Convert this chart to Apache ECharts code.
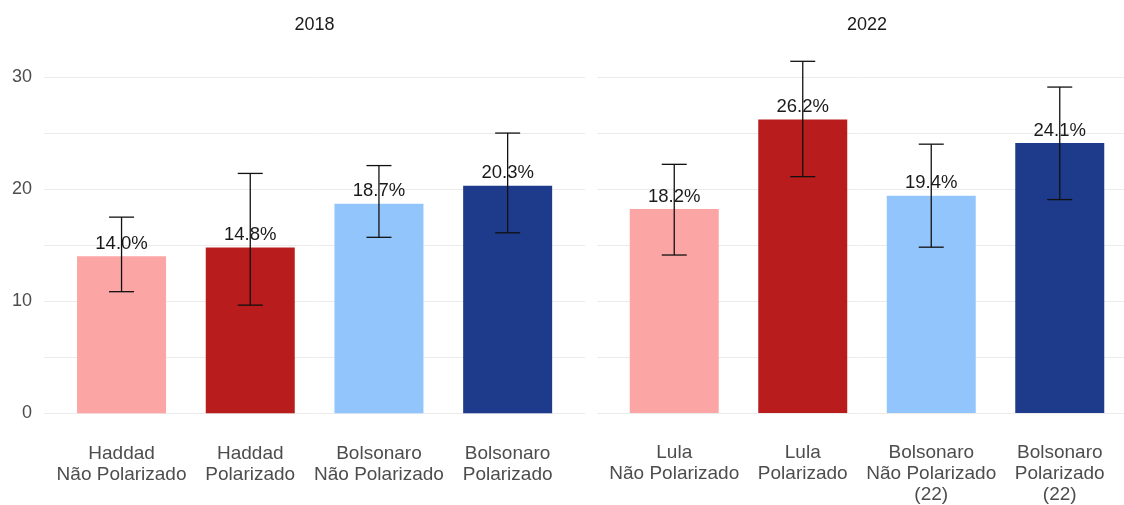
<!DOCTYPE html>
<html>
<head>
<meta charset="utf-8">
<script src="https://cdn.jsdelivr.net/npm/echarts@6/dist/echarts.min.js"></script>
<style>
  html, body { margin: 0; padding: 0; background: #fff; }
  #chart { width: 1124px; height: 505px; }
</style>
</head>
<body>
<div id="chart"></div>
<script>
// 数据
const panels = ["2018", "2022"];
const cats2018 = ["Haddad\nNão Polarizado", "Haddad\nPolarizado", "Bolsonaro\nNão Polarizado", "Bolsonaro\nPolarizado"];
const cats2022 = ["Lula\nNão Polarizado", "Lula\nPolarizado", "Bolsonaro\nNão Polarizado\n(22)", "Bolsonaro\nPolarizado\n(22)"];
const values2018 = [14.0, 14.8, 18.7, 20.3];
const low2018 = [10.85, 9.65, 15.7, 16.1];
const high2018 = [17.5, 21.4, 22.1, 25.0];
const values2022 = [18.2, 26.2, 19.4, 24.1];
const low2022 = [14.1, 21.1, 14.8, 19.05];
const high2022 = [22.2, 31.4, 24.0, 29.1];
const barColors = ["#FCA5A5", "#B91C1C", "#93C5FD", "#1E3A8A"];
const yTicks = [0, 10, 20, 30];

const chart = echarts.init(document.getElementById("chart"));

const TOP = 43.4, BOTTOM = 91.7, YMAX = 33;
const axisFont = { fontFamily: "Liberation Sans", fontSize: 18, color: "#4d4d4d" };

// 网格线用的y轴
const gridY = (showLabel) => ({
  type: "value", min: 0, max: YMAX, interval: 5,
  axisLine: { show: false }, axisTick: { show: false },
  splitLine: { showMaxLine: false, lineStyle: { color: "#ebebeb", width: 1 } },
  axisLabel: {
    show: showLabel, margin: 12, showMaxLabel: false, ...axisFont,
    formatter: v => (yTicks.includes(v) ? String(v) : "")
  }
});
const barY = (gi) => ({
  gridIndex: gi, type: "value", min: 0, max: YMAX, show: false, splitLine: { show: false }
});
const catX = (gi, cats) => ({
  gridIndex: gi, type: "category", data: cats,
  axisLine: { show: false }, axisTick: { show: false },
  axisLabel: { margin: 30, lineHeight: 20.7, interval: 0, ...axisFont, fontSize: 19 }
});

// 误差线
const errRender = (params, api) => {
  const i = api.value(0);
  const lo = api.coord([i, api.value(1)]);
  const hi = api.coord([i, api.value(2)]);
  const cap = 12.5;
  const style = { stroke: "#111", lineWidth: 1.3 };
  return {
    type: "group",
    children: [
      { type: "line", shape: { x1: lo[0], y1: lo[1], x2: hi[0], y2: hi[1] }, style },
      { type: "line", shape: { x1: lo[0] - cap, y1: lo[1], x2: lo[0] + cap, y2: lo[1] }, style },
      { type: "line", shape: { x1: hi[0] - cap, y1: hi[1], x2: hi[0] + cap, y2: hi[1] }, style }
    ]
  };
};

const barSeries = (gi, vals) => ({
  type: "bar", xAxisIndex: gi, yAxisIndex: gi, barWidth: 89,
  data: vals.map((v, i) => ({ value: v, itemStyle: { color: barColors[i] } })),
  label: {
    show: true, position: "top", distance: 3,
    fontFamily: "Liberation Sans", fontSize: 18.5, color: "#1a1a1a",
    formatter: p => p.value.toFixed(1) + "%"
  },
  z: 2
});
const errSeries = (gi, lows, highs) => ({
  type: "custom", xAxisIndex: gi, yAxisIndex: gi,
  renderItem: errRender,
  data: lows.map((l, i) => [i, l, highs[i]]),
  z: 5
});

chart.setOption({
  backgroundColor: "#fff",
  animation: false,
  graphic: [
    { type: "text", x: 314.5, y: 25, style: { text: panels[0], textAlign: "center", textVerticalAlign: "middle", font: "18px 'Liberation Sans'", fill: "#1a1a1a" } },
    { type: "text", x: 867, y: 25, style: { text: panels[1], textAlign: "center", textVerticalAlign: "middle", font: "18px 'Liberation Sans'", fill: "#1a1a1a" } }
  ],
  grid: [
    { left: 44, right: 539, top: TOP, bottom: BOTTOM },
    { left: 57.2, width: 514.8, top: TOP, bottom: BOTTOM },
    { left: 597, right: 0, top: TOP, bottom: BOTTOM },
    { left: 610, width: 514.4, top: TOP, bottom: BOTTOM }
  ],
  xAxis: [
    { gridIndex: 0, type: "value", show: false, splitLine: { show: false } },
    catX(1, cats2018),
    { gridIndex: 2, type: "value", show: false, splitLine: { show: false } },
    catX(3, cats2022)
  ],
  yAxis: [
    { gridIndex: 0, ...gridY(true) },
    barY(1),
    { gridIndex: 2, ...gridY(false) },
    barY(3)
  ],
  series: [
    barSeries(1, values2018),
    errSeries(1, low2018, high2018),
    barSeries(3, values2022),
    errSeries(3, low2022, high2022)
  ]
});
</script>
</body>
</html>
